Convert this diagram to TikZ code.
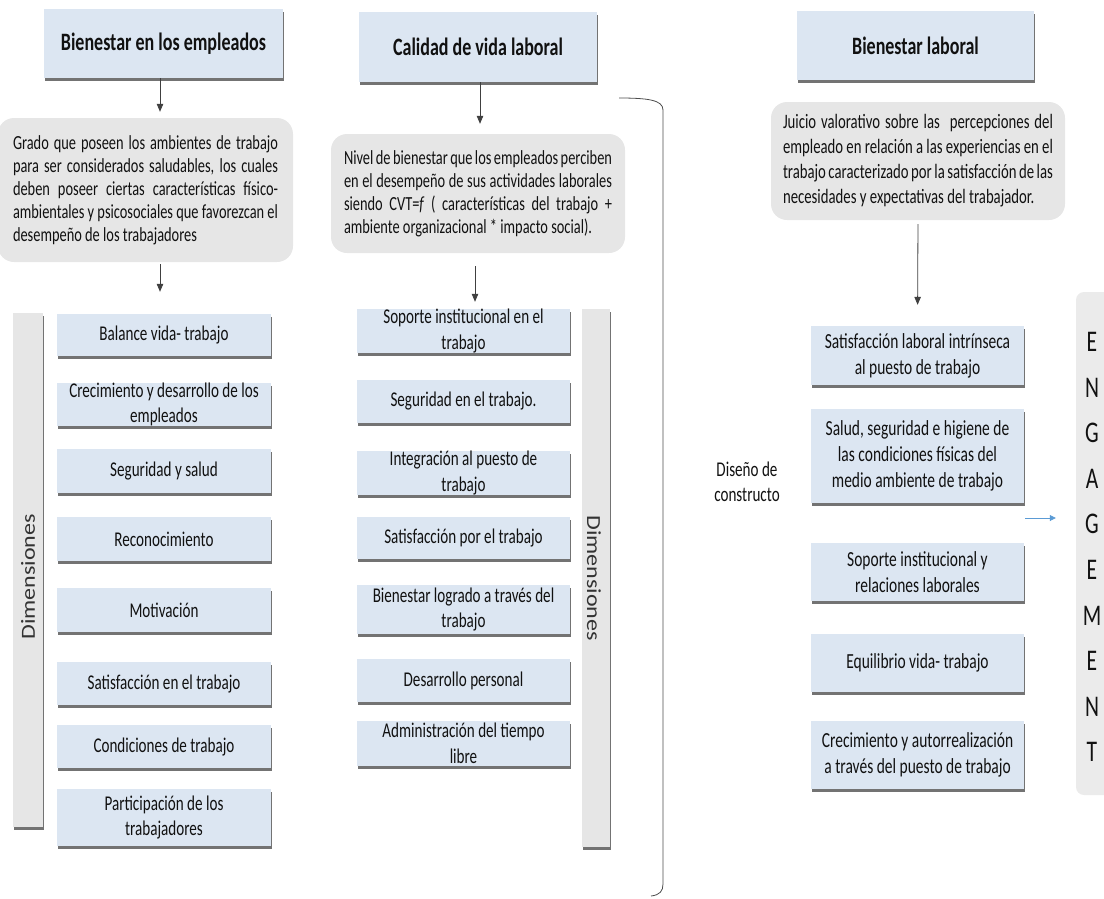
\documentclass[tikz,border=0pt]{standalone}
\usepackage{fontspec}
\setmainfont{Carlito}[FakeStretch=0.72]
\newfontfamily\dimfont{Carlito}[FakeStretch=1.2]
\usetikzlibrary{shadows,arrows.meta}
\definecolor{boxblue}{HTML}{DCE6F2}
\definecolor{boxgrey}{HTML}{E6E6E6}
\definecolor{enggrey}{HTML}{EBEBEB}
\definecolor{arrblue}{HTML}{5B9BD5}
\definecolor{txt}{HTML}{111111}
\tikzset{
  shad/.style={drop shadow={shadow xshift=1pt,shadow yshift=-3pt,opacity=0.55,fill=black}},
  titlebox/.style={fill=boxblue, shad, inner sep=0pt, text=txt, align=center,
     font=\bfseries\fontsize{25}{29}\selectfont},
  itembox/.style={fill=boxblue, shad, inner sep=0pt, text=txt, align=center,
     font=\fontsize{21}{25.5}\selectfont, minimum width=213pt},
  itemboxb/.style={itembox, font=\fontsize{21.5}{26}\selectfont},
  defbox/.style={fill=boxgrey, rounded corners=16pt, inner sep=0pt, text=txt,
     align=justify, font=\fontsize{20}{23}\selectfont},
  dimbar/.style={fill=boxgrey, shad, inner sep=0pt},
  dimtext/.style={font=\dimfont\fontsize{20}{24}\selectfont, text=black!80, inner sep=0pt},
  arr/.style={draw=black!75, line width=0.8pt, -{Triangle[length=8pt,width=6.5pt]}},
  barr/.style={draw=arrblue, line width=0.8pt, -{Triangle[length=6pt,width=6pt]}},
  brk/.style={draw=black!70, line width=0.8pt},
  plain/.style={inner sep=0pt, text=txt, align=center, font=\fontsize{21}{25}\selectfont}
}
\begin{document}
\begin{tikzpicture}[x=1pt,y=-1pt]
\useasboundingbox (0,0) rectangle (1104,898);

% ---------------- Column 1 ----------------
\node[titlebox, minimum width=239pt, minimum height=69pt] (t1) at (163.5,43.5) {Bienestar en los empleados};
\node[defbox, minimum width=295pt, minimum height=144pt, text width=265pt] (g1) at (145.5,190)
 {Grado que poseen los ambientes de trabajo\linebreak para ser considerados saludables, los cuales\linebreak deben poseer ciertas características físico-\linebreak ambientales y psicosociales que favorezcan el\linebreak desempeño de los trabajadores};
\node[dimbar, minimum width=30pt, minimum height=514pt] (d1bar) at (28,570) {};
\node[dimtext, rotate=90] (d1txt) at (28,577) {Dimensiones};

\node[itembox, minimum width=214pt, minimum height=42pt] (b1) at (164,335) {Balance vida- trabajo};
\node[itembox, minimum width=214pt, minimum height=43pt] (b2) at (164,404.5) {Crecimiento y desarrollo de los\\empleados};
\node[itembox, minimum width=214pt, minimum height=44pt] (b3) at (164,471) {Seguridad y salud};
\node[itembox, minimum width=214pt, minimum height=44pt] (b4) at (164,539) {Reconocimiento};
\node[itembox, minimum width=214pt, minimum height=44pt] (b5) at (164,610) {Motivación};
\node[itembox, minimum width=214pt, minimum height=43pt] (b6) at (164,683.5) {Satisfacción en el trabajo};
\node[itembox, minimum width=214pt, minimum height=43pt] (b7) at (164,746.5) {Condiciones de trabajo};
\node[itembox, minimum width=214pt, minimum height=57pt] (b8) at (164,817.5) {Participación de los\\trabajadores};

\coordinate (a1) at (160,0);
\draw[arr, shorten >=6pt] (t1.south -| a1) -- (g1.north -| a1);
\draw[arr, shorten <=2pt, shorten >=22pt] (g1.south -| a1) -- (b1.north -| a1);

% ---------------- Column 2 ----------------
\node[titlebox, minimum width=238pt, minimum height=70pt] (t2) at (478,47) {Calidad de vida laboral};
\node[defbox, minimum width=294pt, minimum height=119pt, text width=268pt] (g2) at (478,193.5)
 {Nivel de bienestar que los empleados perciben\linebreak en el desempeño de sus actividades laborales\linebreak siendo CVT=\textit{f} ( características del trabajo +\linebreak ambiente organizacional * impacto social).};
\node[dimbar, minimum width=28pt, minimum height=538pt] (d2bar) at (596,578) {};
\node[dimtext, rotate=-90] (d2txt) at (594,578) {Dimensiones};

\node[itembox, minimum height=44pt] (c1) at (463.5,331) {Soporte institucional en el\\trabajo};
\node[itembox, minimum height=43pt] (c2) at (463.5,401.5) {Seguridad en el trabajo.};
\node[itembox, minimum height=42pt] (c3) at (463.5,473) {Integración al puesto de\\trabajo};
\node[itembox, minimum height=42pt] (c4) at (463.5,538) {Satisfacción por el trabajo};
\node[itembox, minimum height=49pt] (c5) at (463.5,609.5) {Bienestar logrado a través del\\trabajo};
\node[itembox, minimum height=43pt] (c6) at (463.5,680.5) {Desarrollo personal};
\node[itembox, minimum height=45pt] (c7) at (463.5,743.5) {Administración del tiempo\\libre};

\coordinate (a2) at (480,0);
\coordinate (a3) at (475,0);
\draw[arr, shorten >=10pt] (t2.south -| a2) -- (g2.north -| a2);
\draw[arr, shorten <=13pt, shorten >=7pt] (g2.south -| a3) -- (c1.north -| a3);

\draw[brk] (619,98) .. controls (648,98) and (663,100) .. (663,110) -- (663,884)
  .. controls (663,891) and (660,895) .. (651,896);

% ---------------- Column 3 ----------------
\node[titlebox, minimum width=237pt, minimum height=69pt] (t3) at (915.5,45.5) {Bienestar laboral};
\node[defbox, minimum width=294pt, minimum height=118pt, text width=270pt,
      font=\fontsize{20.5}{25}\selectfont] (g3) at (918,161)
 {Juicio valorativo sobre las\ \ percepciones del\linebreak empleado en relación a las experiencias en el\linebreak trabajo caracterizado por la satisfacción de las\linebreak necesidades y expectativas del trabajador.};

\node[itemboxb, minimum height=59pt] (e1) at (917.5,355.5) {Satisfacción laboral intrínseca\\al puesto de trabajo};
\node[itemboxb, minimum height=94pt] (e2) at (917.5,456) {Salud, seguridad e higiene de\\las condiciones físicas del\\medio ambiente de trabajo};
\node[itemboxb, minimum height=58pt] (e3) at (917.5,572) {Soporte institucional y\\relaciones laborales};
\node[itemboxb, minimum height=58pt] (e4) at (917.5,663) {Equilibrio vida- trabajo};
\node[itemboxb, minimum height=68pt] (e5) at (917.5,755) {Crecimiento y autorrealización\\a través del puesto de trabajo};

\draw[arr, shorten <=4pt, shorten >=21pt] (g3.south) -- (e1.north);

\node[plain] (dc) at (747,482) {Diseño de\\constructo};

\node[fill=enggrey, rounded corners=8pt, inner sep=0pt, minimum width=36pt, minimum height=503pt] (eng) at (1094,543.5) {};
\node[inner sep=0pt, text=txt, align=center, font=\fontsize{30}{45.6}\selectfont] (engtxt) at (1092,547)
 {E\\N\\G\\A\\G\\E\\M\\E\\N\\T};

\coordinate (ba) at (1025,518);
\draw[barr, shorten >=20pt] (ba) -- (eng.west |- ba);
\end{tikzpicture}
\end{document}
